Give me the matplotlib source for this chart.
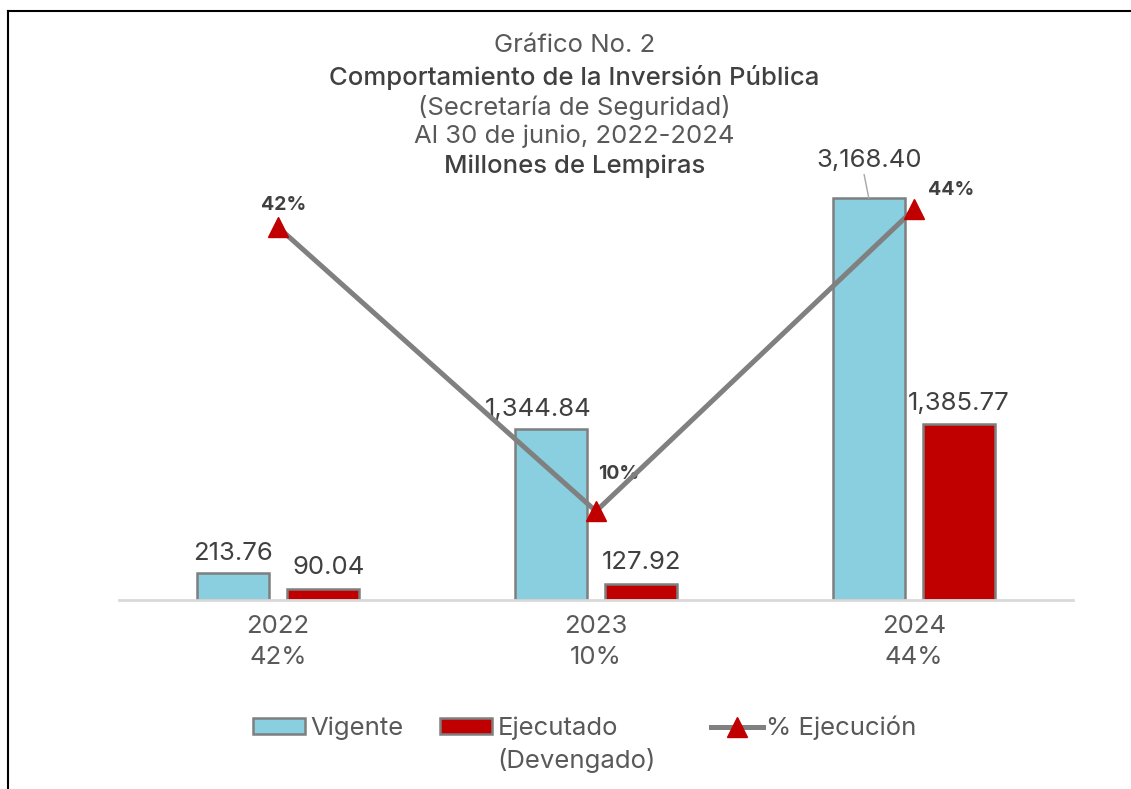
import matplotlib.pyplot as plt
import numpy as np
from matplotlib.patches import Patch
from matplotlib.lines import Line2D

plt.rcParams['font.family'] = ['Inter', 'DejaVu Sans']

years = ["2022", "2023", "2024"]
vigente = [213.76, 1344.84, 3168.40]
ejecutado = [90.04, 127.92, 1385.77]
pct_ejecucion = [0.42, 0.10, 0.44]
pct_labels = ["42%", "10%", "44%"]

txt_color = "#595959"
dark_txt = "#404040"
blue = "#89CFDF"
red = "#C00000"
edge = "#7F7F7F"
fs = 18.5

fig = plt.figure(figsize=(11.31, 7.89), dpi=100)
ax = fig.add_axes([0.1052, 0.2395, 0.8435, 0.5627])

x = np.arange(len(years))
w = 0.226
off = 0.142

ax.bar(x - off, vigente, w, color=blue, edgecolor=edge, linewidth=1.8)
ax.bar(x + off, ejecutado, w, color=red, edgecolor=edge, linewidth=1.8)

ax.set_xlim(-0.5, 2.5)
ax.set_ylim(0, 3500)
for s in ["top", "right", "left"]:
    ax.spines[s].set_visible(False)
ax.spines["bottom"].set_color("#D9D9D9")
ax.spines["bottom"].set_linewidth(2)
ax.set_yticks([])
ax.set_xticks(x)
ax.set_xticklabels([f"{y}\n{p}" for y, p in zip(years, pct_labels)],
                   fontsize=fs, color=txt_color, linespacing=1.4)
ax.tick_params(axis="x", length=0, pad=11)

# value labels on bars
vig_offsets = [(0, 6), (-9, 6), (0, 19)]
for i, v in enumerate(vigente):
    dx, dy = vig_offsets[i]
    if i == 2:
        ax.annotate(f"{v:,.2f}", xy=(x[i] - off, v), xytext=(dx, dy), textcoords="offset points",
                    ha="center", va="bottom", fontsize=fs, color=dark_txt,
                    arrowprops=dict(arrowstyle="-", color="#A6A6A6", lw=1, shrinkA=0, shrinkB=0,
                                    relpos=(0.45, 0.0)))
    else:
        ax.annotate(f"{v:,.2f}", xy=(x[i] - off, v), xytext=(dx, dy), textcoords="offset points",
                    ha="center", va="bottom", fontsize=fs, color=dark_txt)
for i, v in enumerate(ejecutado):
    ax.annotate(f"{v:,.2f}", xy=(x[i] + off, v), xytext=(4 if i == 0 else 0, 7),
                textcoords="offset points", ha="center", va="bottom", fontsize=fs, color=dark_txt)

# percentage line on secondary axis
ax2 = ax.twinx()
ax2.set_ylim(0, 0.5)
ax2.axis("off")
ax2.plot(x, pct_ejecucion, color="#808080", lw=3.6, marker="^", markersize=15,
         markerfacecolor=red, markeredgecolor=red, zorder=5)
pct_offsets = [(4, 16), (16, 27), (27, 14)]
for i, p in enumerate(pct_ejecucion):
    ax2.annotate(pct_labels[i], xy=(x[i], p), xytext=pct_offsets[i], textcoords="offset points",
                 ha="center", va="center", fontsize=14, fontweight="bold", color=dark_txt)

# titles
fig.text(0.508, 0.942, "Gráfico No. 2", ha="center", va="center", fontsize=fs, color=txt_color)
fig.text(0.508, 0.902, "Comportamiento de la Inversión Pública", ha="center", va="center",
         fontsize=fs, color=dark_txt, fontweight="medium")
fig.text(0.508, 0.864, "(Secretaría de Seguridad)", ha="center", va="center", fontsize=fs, color=txt_color)
fig.text(0.508, 0.827, "Al 30 de junio, 2022-2024", ha="center", va="center", fontsize=fs, color=txt_color)
fig.text(0.508, 0.789, "Millones de Lempiras", ha="center", va="center", fontsize=fs,
         color=dark_txt, fontweight="medium")

# legend (bars and line in two groups)
bar_handles = [Patch(facecolor=blue, edgecolor=edge, linewidth=1.8),
               Patch(facecolor=red, edgecolor=edge, linewidth=1.8)]
leg = fig.legend(bar_handles, ["Vigente", "Ejecutado"], loc="center left",
                 bbox_to_anchor=(0.212, 0.077), ncol=2, frameon=False, fontsize=fs,
                 borderpad=0, handlelength=2.05, handleheight=0.6, handletextpad=0.2,
                 columnspacing=1.4, labelcolor=txt_color)
line_handle = [Line2D([0], [0], color="#808080", lw=3.6, marker="^", markersize=15,
                      markerfacecolor=red, markeredgecolor=red)]
leg2 = fig.legend(line_handle, ["% Ejecución"], loc="center left",
                  bbox_to_anchor=(0.617, 0.077), frameon=False, fontsize=fs,
                  borderpad=0, handlelength=2.05, handletextpad=0.1, labelcolor=txt_color)

fig.canvas.draw()
t = leg.get_texts()[1]
bb = t.get_window_extent()
fig.text(bb.x0 / fig.bbox.width, (bb.y0 - 33) / fig.bbox.height, "(Devengado)",
         ha="left", va="bottom", fontsize=fs, color=txt_color)

# frame lines
fig.add_artist(Line2D([0.007, 1.0], [0.986, 0.986], color="black", lw=1.5, transform=fig.transFigure))
fig.add_artist(Line2D([0.007, 0.007], [0.0, 0.986], color="black", lw=1.5, transform=fig.transFigure))

fig.savefig("out.png", dpi=100)
